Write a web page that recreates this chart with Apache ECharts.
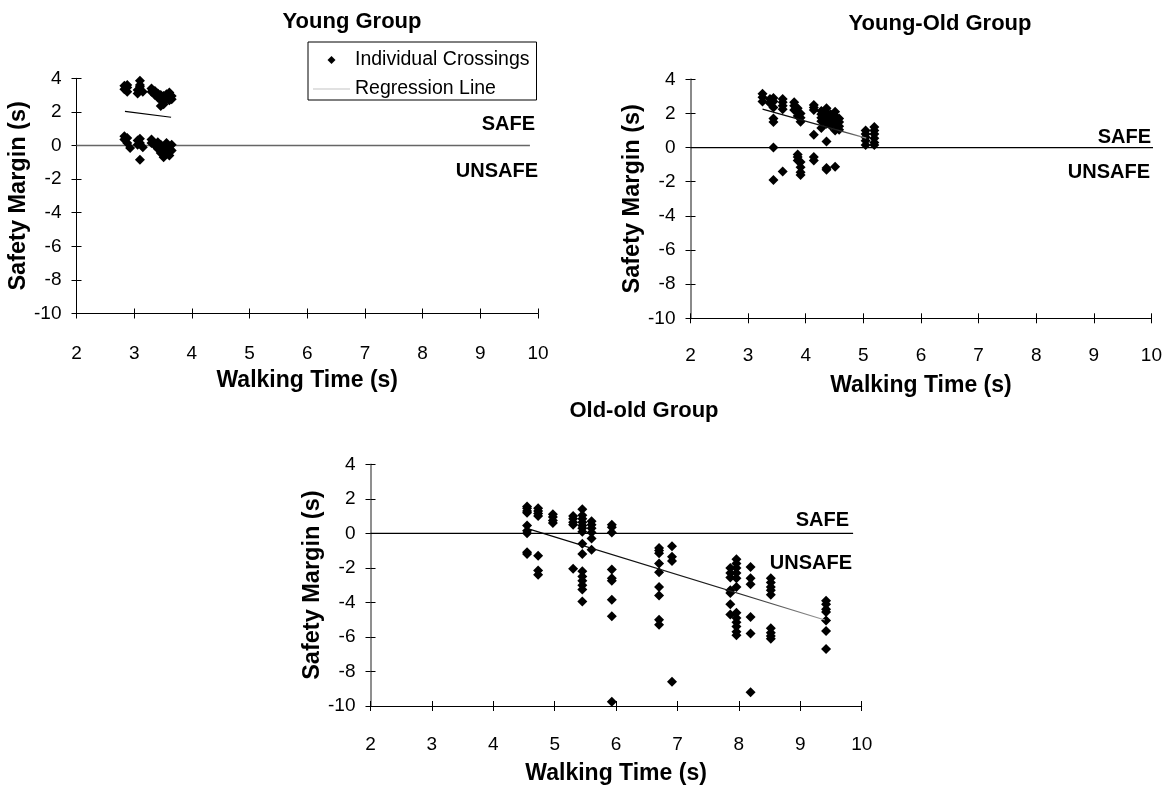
<!DOCTYPE html>
<html>
<head>
<meta charset="utf-8">
<script src="https://cdn.jsdelivr.net/npm/echarts@6/dist/echarts.min.js"></script>
<style>
  html, body { margin: 0; padding: 0; background: #fff; }
  #main { width: 1165px; height: 786px; }
</style>
</head>
<body>
<div id="main"></div>
<script>
    // walking times (columns) and the safety margins
    const youngTimes = [2.83, 2.88, 2.93, 3.06, 3.1, 3.15, 3.3, 3.36, 3.41, 3.46, 3.51, 3.56, 3.61, 3.65];
    const youngMargins = [
        [3.55, 3.35, 0.55, 0.35],
        [3.6, 3.2, 3.45, 0.45, 0.15],
        [-0.15],
        [3.1, 3.3, 0.3, 0.05],
        [3.85, 3.5, 3.6, 0.4, 0.15, -0.85],
        [3.2, -0.1],
        [3.4, 3.2, 0.35, 0.15],
        [3.0, 3.25, 0.0],
        [2.85, 3.1, 0.2, -0.2],
        [2.7, 2.35, 3.0, 0.05, -0.45],
        [2.45, 2.95, 2.6, -0.7, -0.1],
        [3.05, 2.8, 0.15, -0.35],
        [2.9, 3.15, 2.7, -0.6, -0.2],
        [2.95, 2.75, 0.05, -0.3]
    ];

    const youngOldTimes = [3.25, 3.38, 3.44, 3.6, 3.8, 3.86, 3.91, 4.14, 4.27, 4.36, 4.43, 4.51, 4.58, 5.04, 5.19];
    const youngOldMargins = [
        [3.15, 2.95, 2.7],
        [2.85, 2.6],
        [2.9, 2.7, 2.35, 1.7, 1.5, 0.0, -1.9],
        [2.85, 2.65, 2.45, 2.25, -1.4],
        [2.65, 2.45, 2.2],
        [2.3, 2.1, 1.85, -0.4, -0.55, -0.75],
        [2.0, 1.75, 1.52, -0.85, -1.15, -1.45, -1.6],
        [2.5, 2.35, 2.2, 0.75, -0.55, -0.75],
        [2.15, 1.95, 1.75, 1.55, 1.15],
        [2.3, 2.05, 1.85, 1.6, 1.4, 0.35, -1.2, -1.3],
        [1.95, 1.7, 1.5, 1.3],
        [2.1, 1.85, 1.6, 1.35, 1.0, -1.12],
        [1.7, 1.5, 1.25, 1.05],
        [1.0, 0.8, 0.6, 0.4, 0.15],
        [1.2, 1.0, 0.8, 0.55, 0.3, 0.15]
    ];

    const oldOldTimes = [4.55, 4.73, 4.97, 5.3, 5.45, 5.6, 5.93, 6.7, 6.91, 7.86, 7.96, 8.19, 8.52, 9.42];
    const oldOldMargins = [
        [1.55, 1.45, 1.3, 1.2, 0.45, 0.15, 0.0, -1.1, -1.2],
        [1.45, 1.3, 1.15, 1.0, -1.3, -2.15, -2.4],
        [1.1, 0.95, 0.75, 0.6],
        [1.0, 0.85, 0.65, 0.5, -2.05],
        [1.4, 1.05, 0.85, 0.65, 0.45, 0.3, 0.1, -0.6, -1.2, -2.2, -2.5, -2.75, -3.0, -3.25, -3.95],
        [0.7, 0.5, 0.3, 0.05, -0.3, -0.95],
        [0.5, 0.35, 0.05, -2.1, -2.6, -2.75, -3.85, -4.8, -9.75],
        [-0.85, -1.0, -1.15, -1.75, -2.25, -3.1, -3.6, -5.0, -5.3],
        [-0.75, -1.35, -1.6, -8.6],
        [-2.0, -2.3, -2.55, -3.3, -3.45, -4.1, -4.7],
        [-1.5, -1.75, -2.0, -2.3, -2.6, -3.1, -4.6, -4.9, -5.15, -5.4, -5.7, -5.9],
        [-1.95, -2.6, -2.95, -4.85, -5.8, -9.2],
        [-2.6, -2.85, -3.1, -3.3, -3.55, -5.5, -5.75, -5.95, -6.1],
        [-3.9, -4.1, -4.4, -4.55, -5.05, -5.65, -6.7]
    ];

    // regression line end points
    const youngRegX = [2.84, 3.64];
    const youngRegY = [2.03, 1.68];
    const youngOldRegX = [3.25, 5.05];
    const youngOldRegY = [2.25, 0.55];
    const oldOldRegX = [4.6, 9.4];
    const oldOldRegY = [0.23, -5.02];

    // safe / unsafe boundary (margin = 0)
    const zeroY = [0, 0];
    const youngZeroX = [2, 9.86];
    const youngOldZeroX = [2, 10.05];
    const oldOldZeroX = [2, 9.86];

    const xTicks = { min: 2, max: 10, interval: 1 };
    const yTicks = { min: -10, max: 4, interval: 2 };

    const FONT = '"Liberation Sans", Arial, Helvetica, sans-serif';

    function points(times, margins) {
        const out = [];
        times.forEach((t, i) => margins[i].forEach(m => out.push([t, m])));
        return out;
    }
    function pairs(xs, ys) {
        return xs.map((x, i) => [x, ys[i]]);
    }

    const grids = [
        { left: 76.5, top: 78.3, width: 461.5, height: 235.2 },
        { left: 690.5, top: 79.3, width: 462, height: 239 },
        { left: 370.5, top: 464.3, width: 491.2, height: 241.7 }
    ];
    const yLineStyle = [
        { color: '#000', width: 1 },
        { color: '#8a8a8a', width: 2 },
        { color: '#6a6a6a', width: 1.5 }
    ];
    const xLabelMargin = [31, 28, 29];
    const yNameGap = [40, 41, 45];

    var xAxis = [], yAxis = [];
    grids.forEach((g, i) => {
        // main axis (outer half of the tick + labels)
        xAxis.push({
            gridIndex: i, type: 'value', position: 'bottom',
            min: xTicks.min, max: xTicks.max, interval: xTicks.interval,
            name: 'Walking Time (s)', nameLocation: 'middle', nameGap: 56,
            nameTextStyle: { fontFamily: FONT, fontSize: 23, fontWeight: 'bold', color: '#000' },
            axisLine: { onZero: false, lineStyle: { color: '#000', width: 1 } },
            axisTick: { length: 5, lineStyle: { color: '#000' } },
            axisLabel: { margin: xLabelMargin[i], fontFamily: FONT, fontSize: 19, color: '#000' },
            splitLine: { show: false }
        });
        // inner half of the crossing tick
        xAxis.push({
            gridIndex: i, type: 'value', position: 'bottom',
            min: xTicks.min, max: xTicks.max, interval: xTicks.interval,
            axisLine: { show: false, onZero: false },
            axisTick: { inside: true, length: 5, lineStyle: { color: '#000' } },
            axisLabel: { show: false },
            splitLine: { show: false }
        });
        yAxis.push({
            gridIndex: i, type: 'value', position: 'left',
            min: yTicks.min, max: yTicks.max, interval: yTicks.interval,
            name: 'Safety Margin (s)', nameLocation: 'middle', nameGap: yNameGap[i],
            nameTextStyle: { fontFamily: FONT, fontSize: 23.5, fontWeight: 'bold', color: '#000' },
            axisLine: { onZero: false, lineStyle: yLineStyle[i] },
            axisTick: { length: 5, lineStyle: { color: '#000' } },
            axisLabel: { margin: 15, fontFamily: FONT, fontSize: 19, color: '#000' },
            splitLine: { show: false }
        });
        yAxis.push({
            gridIndex: i, type: 'value', position: 'left',
            min: yTicks.min, max: yTicks.max, interval: yTicks.interval,
            axisLine: { show: false, onZero: false },
            axisTick: { inside: true, length: 5, lineStyle: { color: '#000' } },
            axisLabel: { show: false },
            splitLine: { show: false }
        });
    });

    function fade() {
        return new echarts.graphic.LinearGradient(0, 0, 1, 0, [
            { offset: 0, color: '#000' },
            { offset: 0.7, color: '#222' },
            { offset: 1, color: '#a0a0a0' }
        ]);
    }

    function zeroSeries(i, xs, color, width) {
        return {
            type: 'line', xAxisIndex: 2 * i, yAxisIndex: 2 * i,
            data: pairs(xs, zeroY), symbol: 'none', clip: false, silent: true, z: 1,
            lineStyle: { color: color, width: width }
        };
    }
    function scatterSeries(i, data) {
        return {
            name: 'Individual Crossings', type: 'scatter', xAxisIndex: 2 * i, yAxisIndex: 2 * i,
            data: data, symbol: 'diamond', symbolSize: [10, 10], z: 3,
            itemStyle: { color: '#000', opacity: 1 }
        };
    }
    function regSeries(i, xs, ys, color) {
        return {
            name: 'Regression Line', type: 'line', xAxisIndex: 2 * i, yAxisIndex: 2 * i,
            data: pairs(xs, ys), symbol: 'none', z: 4,
            itemStyle: { color: '#000' },
            lineStyle: { color: color, width: 1.2 }
        };
    }

    var labelStyle = { font: 'bold 20px ' + FONT, fill: '#000', textAlign: 'right', textVerticalAlign: 'middle' };
    function note(text, x, y) {
        return { type: 'text', x: x, y: y, style: Object.assign({ text: text }, labelStyle) };
    }

    var option = {
        backgroundColor: '#fff',
        animation: false,
        title: [
            { text: 'Young Group', left: 352, top: 11, textAlign: 'center', padding: 0,
              textStyle: { fontFamily: FONT, fontSize: 22, fontWeight: 'bold', color: '#000' } },
            { text: 'Young-Old Group', left: 940, top: 13, textAlign: 'center', padding: 0,
              textStyle: { fontFamily: FONT, fontSize: 22, fontWeight: 'bold', color: '#000' } },
            { text: 'Old-old Group', left: 644, top: 400, textAlign: 'center', padding: 0,
              textStyle: { fontFamily: FONT, fontSize: 22, fontWeight: 'bold', color: '#000' } }
        ],
        legend: {
            orient: 'vertical', left: 308, top: 42,
            padding: [8, 7, 1, 5], itemGap: 9, itemWidth: 37, itemHeight: 9,
            borderColor: '#000', borderWidth: 1,
            textStyle: { fontFamily: FONT, fontSize: 19.5, color: '#000', lineHeight: 20 },
            data: [
                // small diamond centred in a 37 x 9 box
                { name: 'Individual Crossings',
                  icon: 'path://M0,0M37,9M18.5,0.5L22.5,4.5L18.5,8.5L14.5,4.5Z',
                  itemStyle: { color: '#000' } },
                // thin light grey stroke across the box
                { name: 'Regression Line',
                  icon: 'path://M0,0M37,9M0,4L37,4L37,5L0,5Z',
                  itemStyle: { color: '#c4c4c4' } }
            ]
        },
        grid: grids,
        xAxis: xAxis,
        yAxis: yAxis,
        graphic: [
            note('SAFE', 535, 124), note('UNSAFE', 538, 171),
            note('SAFE', 1151, 137), note('UNSAFE', 1150, 172),
            note('SAFE', 849, 520), note('UNSAFE', 852, 563)
        ],
        series: [
            zeroSeries(0, youngZeroX, '#666', 1.5),
            scatterSeries(0, points(youngTimes, youngMargins)),
            regSeries(0, youngRegX, youngRegY, '#000'),

            zeroSeries(1, youngOldZeroX, '#000', 1.2),
            scatterSeries(1, points(youngOldTimes, youngOldMargins)),
            regSeries(1, youngOldRegX, youngOldRegY, fade()),

            zeroSeries(2, oldOldZeroX, '#000', 1.2),
            scatterSeries(2, points(oldOldTimes, oldOldMargins)),
            regSeries(2, oldOldRegX, oldOldRegY, fade())
        ]
    };

    var chart = echarts.init(document.getElementById('main'));
    chart.setOption(option);
</script>
</body>
</html>
